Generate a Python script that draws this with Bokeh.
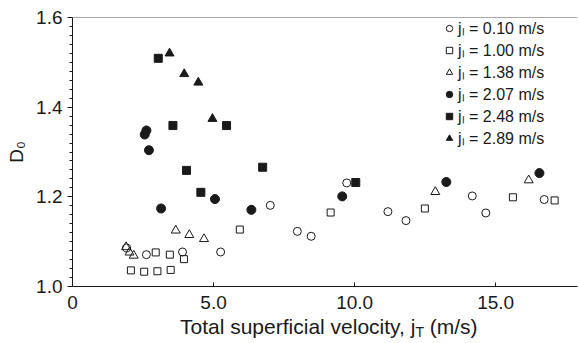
from bokeh.plotting import figure
from bokeh.models import (FixedTicker, Legend, LegendItem, Span, Range1d, Div)
from bokeh.layouts import column
from bokeh.embed import file_html
from bokeh.resources import INLINE

# ---- data ----
x_010 = [1.92, 2.62, 3.90, 5.25, 7.01, 7.97, 8.46, 9.72, 11.18, 11.82, 14.17, 14.65, 16.72]
y_010 = [1.086, 1.071, 1.077, 1.077, 1.181, 1.123, 1.112, 1.231, 1.167, 1.147, 1.202, 1.164, 1.194]

x_100 = [2.07, 2.54, 3.01, 3.48, 2.95, 3.45, 3.95, 5.93, 9.15, 12.49, 15.61, 17.09]
y_100 = [1.036, 1.033, 1.034, 1.037, 1.076, 1.071, 1.061, 1.127, 1.165, 1.174, 1.199, 1.192]

x_138 = [1.90, 2.02, 2.17, 3.66, 4.14, 4.66, 12.86, 16.17]
y_138 = [1.088, 1.076, 1.069, 1.125, 1.115, 1.106, 1.211, 1.237]

x_207 = [2.62, 2.56, 2.71, 3.14, 5.05, 6.34, 9.56, 13.25, 16.55]
y_207 = [1.348, 1.339, 1.304, 1.174, 1.195, 1.171, 1.201, 1.233, 1.253]

x_248 = [3.04, 3.56, 5.46, 4.04, 6.74, 4.55, 10.04]
y_248 = [1.509, 1.359, 1.359, 1.259, 1.266, 1.210, 1.232]

x_289 = [3.44, 3.96, 4.46, 4.96]
y_289 = [1.520, 1.474, 1.455, 1.374]

legend_labels = ["j\u2097 = 0.10 m/s", "j\u2097 = 1.00 m/s", "j\u2097 = 1.38 m/s",
                 "j\u2097 = 2.07 m/s", "j\u2097 = 2.48 m/s", "j\u2097 = 2.89 m/s"]

x_ticks = [0, 5, 10, 15]
x_tick_labels = ["0", "5.0", "10.0", "15.0"]
y_ticks = [1.0, 1.2, 1.4, 1.6]
y_minor = [1.02, 1.04, 1.06, 1.08, 1.10, 1.12, 1.14, 1.16, 1.18,
           1.22, 1.24, 1.26, 1.28, 1.30, 1.32, 1.34, 1.36, 1.38,
           1.42, 1.44, 1.46, 1.48, 1.50, 1.52, 1.54, 1.56, 1.58]

FONT = "Liberation Sans"
INK = "#1a1a1a"

p = figure(width=579, height=316, output_backend="svg", toolbar_location=None,
           x_range=Range1d(0, 17.9), y_range=Range1d(1.0, 1.6),
           min_border_left=72, min_border_right=2, min_border_top=17, min_border_bottom=30)
p.outline_line_color = None
p.xgrid.visible = False
p.ygrid.visible = False
p.background_fill_color = "white"
p.border_fill_color = "white"

# top frame line
p.add_layout(Span(location=1.6, dimension="width", line_color="#555555", line_width=1))

# axes
xa = p.xaxis[0]
xa.ticker = FixedTicker(ticks=x_ticks, minor_ticks=[])
xa.major_label_overrides = {t: l for t, l in zip(x_ticks, x_tick_labels)}
xa.major_tick_in = 4
xa.major_tick_out = 0
xa.minor_tick_line_color = None
xa.major_label_standoff = 9
xa.major_label_text_font = FONT
xa.major_label_text_font_size = "19px"
xa.major_label_text_color = INK
xa.axis_line_color = INK
xa.major_tick_line_color = INK

ya = p.yaxis[0]
ya.ticker = FixedTicker(ticks=y_ticks, minor_ticks=y_minor)
ya.major_label_overrides = {t: "%.1f" % t for t in y_ticks}
ya.major_tick_in = 0
ya.major_tick_out = 5
ya.minor_tick_in = 0
ya.minor_tick_out = 3
ya.major_label_standoff = 5
ya.major_label_text_font = FONT
ya.major_label_text_font_size = "19px"
ya.major_label_text_color = INK
ya.axis_line_color = INK
ya.major_tick_line_color = INK
ya.minor_tick_line_color = INK
ya.axis_label = "D\u2080"
ya.axis_label_text_font = FONT
ya.axis_label_text_font_size = "19px"
ya.axis_label_text_font_style = "normal"
ya.axis_label_text_color = INK
ya.axis_label_standoff = 6

# series
r1 = p.scatter(x_010, y_010, marker="circle", size=8, fill_color=None, line_color=INK, line_width=1)
r2 = p.scatter(x_100, y_100, marker="square", size=7, fill_color=None, line_color=INK, line_width=1)
r3 = p.scatter(x_138, y_138, marker="triangle", size=9, fill_color=None, line_color=INK, line_width=1)
r4 = p.scatter(x_207, y_207, marker="circle", size=9, fill_color=INK, line_color=INK)
r5 = p.scatter(x_248, y_248, marker="square", size=8, fill_color=INK, line_color=INK)
r6 = p.scatter(x_289, y_289, marker="triangle", size=9, fill_color=INK, line_color=INK)

items = [LegendItem(label=l, renderers=[r]) for l, r in zip(legend_labels, [r1, r2, r3, r4, r5, r6])]
leg = Legend(items=items, location=(369, 137), padding=0, margin=0, spacing=-3,
             glyph_width=16, glyph_height=18, label_height=18, label_standoff=1,
             label_text_font=FONT, label_text_font_size="16px", label_text_color=INK,
             border_line_color=None, background_fill_alpha=0)
p.add_layout(leg)

# x axis title with a real subscript
xtitle = Div(
    text=('<div style="margin-left:180px; white-space:nowrap; line-height:21px; '
          'font-family:\'Liberation Sans\'; font-size:21px; color:#1a1a1a;">'
          'Total superficial velocity, j<span style="font-size:14px; position:relative; top:3px;">T</span>'
          ' (m/s)</div>'),
    width=579, height=27, margin=0)

layout = column(p, xtitle, spacing=0)
open("out.html", "w").write(file_html(layout, INLINE))
